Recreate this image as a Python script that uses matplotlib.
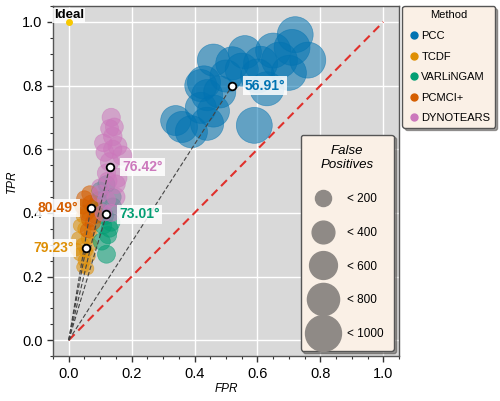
import numpy as np
import matplotlib
matplotlib.use('Agg')
import matplotlib.pyplot as plt
from matplotlib.lines import Line2D
from matplotlib.ticker import MultipleLocator

plt.rcParams['font.family'] = ['Liberation Sans', 'DejaVu Sans']

# method names and colours (seaborn "colorblind")
methods = ['PCC', 'TCDF', 'VARLiNGAM', 'PCMCI+', 'DYNOTEARS']
colors = ['#0173B2', '#DE8F05', '#029E73', '#D55E00', '#CC78BC']

# per-run points: FPR, TPR, false positives
pcc_fpr = [0.34, 0.36, 0.39, 0.44, 0.42, 0.46, 0.44, 0.42, 0.43, 0.46, 0.52, 0.56, 0.61,
           0.63, 0.65, 0.67, 0.70, 0.72, 0.71, 0.76, 0.59, 0.50, 0.55, 0.60, 0.48]
pcc_tpr = [0.69, 0.67, 0.655, 0.68, 0.73, 0.72, 0.77, 0.80, 0.81, 0.88, 0.87, 0.905, 0.87,
           0.79, 0.91, 0.88, 0.84, 0.96, 0.92, 0.88, 0.675, 0.83, 0.85, 0.83, 0.78]
pcc_fp = [700, 750, 800, 850, 750, 800, 750, 800, 850, 800, 850, 850, 900,
          900, 950, 1000, 950, 1000, 1000, 1000, 1000, 800, 850, 900, 800]

tcdf_fpr = [0.045, 0.06, 0.05, 0.035, 0.065, 0.045, 0.03, 0.06, 0.05, 0.035, 0.07, 0.045,
            0.06, 0.04, 0.025, 0.055, 0.07]
tcdf_tpr = [0.23, 0.225, 0.25, 0.27, 0.265, 0.30, 0.32, 0.32, 0.35, 0.36, 0.34, 0.39,
            0.40, 0.42, 0.285, 0.28, 0.30]
tcdf_fp = [120, 120, 130, 130, 120, 140, 130, 130, 140, 130, 130, 140, 140, 140, 120, 130, 130]

varl_fpr = [0.12, 0.10, 0.095, 0.14, 0.115, 0.135, 0.125, 0.105, 0.12, 0.13, 0.11, 0.14, 0.10]
varl_tpr = [0.49, 0.47, 0.44, 0.42, 0.39, 0.37, 0.33, 0.31, 0.27, 0.35, 0.36, 0.45, 0.41]
varl_fp = [230, 220, 220, 230, 230, 240, 230, 230, 250, 220, 220, 220, 210]

pcmci_fpr = [0.067, 0.05, 0.082, 0.056, 0.077, 0.061, 0.07, 0.045, 0.085, 0.065]
pcmci_tpr = [0.46, 0.445, 0.42, 0.40, 0.37, 0.345, 0.43, 0.42, 0.39, 0.38]
pcmci_fp = [200, 190, 200, 190, 180, 180, 200, 180, 180, 190]

dyno_fpr = [0.135, 0.13, 0.14, 0.155, 0.115, 0.17, 0.14, 0.12, 0.155, 0.10, 0.15, 0.12,
            0.15, 0.10, 0.13, 0.11, 0.145, 0.125, 0.135, 0.11]
dyno_tpr = [0.70, 0.665, 0.64, 0.61, 0.59, 0.58, 0.60, 0.525, 0.51, 0.48, 0.49, 0.44,
            0.45, 0.46, 0.56, 0.62, 0.67, 0.50, 0.40, 0.40]
dyno_fp = [260, 250, 270, 280, 250, 290, 260, 260, 280, 230, 270, 250,
           260, 220, 270, 240, 250, 250, 230, 220]

# mean point of each method and its angle label
mean_fpr = [0.52, 0.055, 0.12, 0.07, 0.13]
mean_tpr = [0.80, 0.29, 0.395, 0.415, 0.545]
angle_labels = ['56.91°', '79.23°', '73.01°', '80.49°', '76.42°']
label_side = ['right', 'left', 'right', 'left', 'right']

size_levels = [200, 400, 600, 800, 1000]
size_scale = 0.67   # marker area (pt^2) per false positive

fprs = [pcc_fpr, tcdf_fpr, varl_fpr, pcmci_fpr, dyno_fpr]
tprs = [pcc_tpr, tcdf_tpr, varl_tpr, pcmci_tpr, dyno_tpr]
fps = [pcc_fp, tcdf_fp, varl_fp, pcmci_fp, dyno_fp]

fig = plt.figure(figsize=(5, 4.01), dpi=100)
ax = fig.add_axes([0.106, 0.112, 0.692, 0.873])
ax.set_facecolor('#d9d9d9')
ax.grid(True, color='white', lw=1, zorder=0)
ax.set_axisbelow(True)

# random-guess diagonal
ax.plot([0, 1], [0, 1], ls=(0, (4, 2.5)), color='#e0302b', lw=1.5, zorder=1)

for i in range(len(methods)):
    ax.scatter(fprs[i], tprs[i], s=np.array(fps[i]) * size_scale, color=colors[i],
               alpha=0.55, edgecolors=colors[i], linewidths=0.5, zorder=2)

for i in range(len(methods)):
    ax.plot([0, mean_fpr[i]], [0, mean_tpr[i]], ls=(0, (4, 2)), color='#444444',
            lw=0.8, zorder=3)
    ax.plot(mean_fpr[i], mean_tpr[i], 'o', ms=5.5, mfc='white', mec='black',
            mew=1.3, zorder=5)
    if label_side[i] == 'right':
        off, ha = 9, 'left'
    else:
        off, ha = -9, 'right'
    ax.annotate(angle_labels[i], (mean_fpr[i], mean_tpr[i]), xytext=(off, 0),
                textcoords='offset points', ha=ha, va='center', color=colors[i],
                fontsize=10, fontweight='bold', zorder=6,
                bbox=dict(boxstyle='square,pad=0.15', fc='white', ec='none', alpha=0.85))

# ideal point
ax.text(0, 1.002, 'Ideal', ha='center', va='bottom', fontsize=9.5, fontweight='bold',
        zorder=6, bbox=dict(boxstyle='square,pad=0.12', fc='white', ec='none', alpha=0.85))
ax.plot(0, 1, 'o', ms=4, color='#f7c800', zorder=7)

ax.set_xlim(-0.05, 1.05)
ax.set_ylim(-0.05, 1.05)
ax.xaxis.set_major_locator(MultipleLocator(0.2))
ax.yaxis.set_major_locator(MultipleLocator(0.2))
ax.xaxis.set_minor_locator(MultipleLocator(0.05))
ax.yaxis.set_minor_locator(MultipleLocator(0.05))
ax.tick_params(which='major', length=4, width=1, labelsize=10.5, color='#333333')
ax.tick_params(which='minor', length=2, width=0.8, color='#333333')
for sp in ax.spines.values():
    sp.set_color('#555555')
    sp.set_linewidth(1)
ax.set_xlabel('FPR', fontsize=8.5, fontstyle='italic', labelpad=2)
ax.set_ylabel('TPR', fontsize=8.5, fontstyle='italic', labelpad=3)

# method legend
mh = [Line2D([], [], marker='o', ls='', ms=5, color=c) for c in colors]
leg1 = ax.legend(mh, methods, title='Method', loc='upper left', bbox_to_anchor=(1.01, 1.0),
                 borderaxespad=0, fontsize=8, title_fontsize=8, labelspacing=0.95,
                 handletextpad=0.1, handlelength=1.2, frameon=True, fancybox=True,
                 shadow=True, facecolor='#faf0e6', edgecolor='#555555', framealpha=1)
ax.add_artist(leg1)

# size legend
sh = [Line2D([], [], marker='o', ls='', ms=np.sqrt(v * size_scale), color='#8f8a86')
      for v in size_levels]
leg2 = ax.legend(sh, ['< %d' % v for v in size_levels], title='False\nPositives',
                 loc='lower right', bbox_to_anchor=(0.985, 0.015), borderaxespad=0,
                 fontsize=8.5, title_fontsize=9.5, labelspacing=1.85, handletextpad=1.0,
                 borderpad=0.9, frameon=True, fancybox=True, shadow=True,
                 facecolor='#faf0e6', edgecolor='#555555', framealpha=1)
leg2.get_title().set_fontstyle('italic')
leg2.get_title().set_multialignment('center')

fig.savefig('out.png', dpi=100)
